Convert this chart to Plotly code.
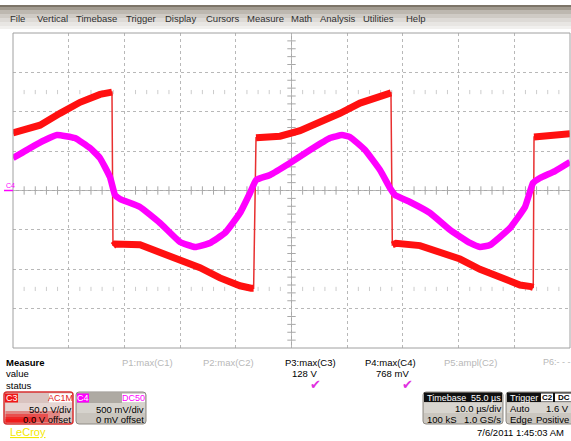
import plotly.graph_objects as go

W, H = 571, 441

# ---- waveform data (time in microseconds) ----
# C3: 50 V/div
c3_t = [0.0, 4.85, 8.44, 12.03, 15.62, 17.77, 17.95, 18.31, 22.80, 26.39, 29.98,
        33.57, 37.16, 40.75, 42.73, 43.20, 43.63, 47.94, 51.53, 55.12, 58.71,
        62.30, 65.89, 67.86, 68.10, 68.76, 73.07, 76.66, 80.25, 83.84, 87.43,
        91.02, 93.00, 93.40, 93.54, 96.41, 100.0]
c3_v = [73, 83, 98, 112, 122, 125, -70, -68, -69, -78, -89,
        -98, -111, -121, -124, -124, 67, 69, 76, 86, 98,
        111, 120, 124, -69, -67, -70, -78, -87, -100, -111,
        -120, -122, -123, 68, 69, 72]

# C4: 500 mV/div
c4_t = [0.0, 3.05, 5.75, 7.90, 11.13, 13.82, 15.62, 17.41, 18.31, 19.21, 22.80,
        26.39, 29.98, 32.68, 35.37, 38.06, 40.75, 42.55, 43.63, 46.14, 49.73,
        53.32, 56.91, 59.07, 60.50, 63.20, 65.89, 67.68, 68.58, 71.27, 74.87,
        78.46, 82.05, 83.84, 85.64, 89.23, 91.92, 93.36, 94.61, 97.31, 100.0]
c4_mv = [412, 539, 641, 704, 666, 539, 412, 171, -57, -108, -209,
         -412, -653, -717, -666, -539, -286, -32, 133, 197, 349,
         514, 666, 704, 679, 514, 260, 32, -57, -146, -286,
         -501, -666, -717, -692, -476, -209, 95, 159, 247, 362]

# measurement readouts
meas_headers = ["P1:max(C1)", "P2:max(C2)", "P3:max(C3)", "P4:max(C4)", "P5:ampl(C2)", "P6:- - -"]
meas_values = ["", "", "128 V", "768 mV", "", ""]
menu_items = ["File", "Vertical", "Timebase", "Trigger", "Display", "Cursors",
              "Measure", "Math", "Analysis", "Utilities", "Help"]

RED = "#ff1010"
MAG = "#ff00ff"
FONT = "Liberation Sans, Arial, sans-serif"

# plot area in pixels
X0, X1, Y0, Y1 = 13, 570, 33, 348


def px(x):
    return x / W


def py(y):
    return 1 - y / H


fig = go.Figure()

# grid decoration: ticks on center axes and the +-2.5 div marker rows
minor_t = [i * 2 for i in range(51) if i % 5 != 0]
fig.add_trace(go.Scatter(x=minor_t, y=[0] * len(minor_t), mode="markers",
                         marker=dict(symbol="line-ns", size=6, line=dict(color="#a8a8a8", width=1)),
                         hoverinfo="skip", showlegend=False))
minor_v = [i * 10 for i in range(-20, 21) if i % 5 != 0]
fig.add_trace(go.Scatter(x=[50] * len(minor_v), y=minor_v, mode="markers",
                         marker=dict(symbol="line-ew", size=6, line=dict(color="#a8a8a8", width=1)),
                         hoverinfo="skip", showlegend=False))
for lvl in (125, -125):
    fig.add_trace(go.Scatter(x=minor_t, y=[lvl] * len(minor_t), mode="markers",
                             marker=dict(symbol="line-ns", size=3, line=dict(color="#cccccc", width=1)),
                             hoverinfo="skip", showlegend=False))

# C4 trace
fig.add_trace(go.Scatter(x=c4_t, y=c4_mv, yaxis="y2", mode="lines",
                         line=dict(color=MAG, width=6.5, shape="spline", smoothing=0.35),
                         hoverinfo="skip", showlegend=False))

# C3 trace: thin edges for the whole series, wide band on the plateaus
fig.add_trace(go.Scatter(x=c3_t, y=c3_v, mode="lines",
                         line=dict(color="#e83030", width=1.5),
                         hoverinfo="skip", showlegend=False))
seg_t, seg_v = [c3_t[0]], [c3_v[0]]
for i in range(1, len(c3_t)):
    if abs(c3_v[i] - c3_v[i - 1]) > 100:
        seg_t.append(None)
        seg_v.append(None)
    seg_t.append(c3_t[i])
    seg_v.append(c3_v[i])
fig.add_trace(go.Scatter(x=seg_t, y=seg_v, mode="lines", connectgaps=False,
                         line=dict(color=RED, width=7),
                         hoverinfo="skip", showlegend=False))

shapes = []
ann = []

# center axes and border
shapes.append(dict(type="line", xref="x", yref="paper", x0=50, x1=50, y0=py(Y1), y1=py(Y0),
                   line=dict(color="#a8a8a8", width=1), layer="below"))
shapes.append(dict(type="line", xref="paper", yref="y", x0=px(X0), x1=px(X1), y0=0, y1=0,
                   line=dict(color="#a8a8a8", width=1), layer="below"))
shapes.append(dict(type="rect", xref="paper", yref="paper", x0=px(X0), x1=px(X1), y0=py(Y1), y1=py(Y0),
                   line=dict(color="#a0a0a0", width=1)))

# menu bar
bar = [(5, 7, "#7c7468"), (7, 10, "#a29b90"), (10, 14, "#bdb8b0"), (14, 18, "#cfcbc5"),
       (18, 22, "#dddad6"), (22, 26, "#e8e6e3"), (26, 29, "#f1f0ee")]
for y0, y1, c in bar:
    shapes.append(dict(type="rect", xref="paper", yref="paper", x0=0, x1=1, y0=py(y1), y1=py(y0),
                       fillcolor=c, line=dict(width=0), layer="below"))
menu_x = [8, 35, 74, 124, 163, 204, 245, 289, 318, 361, 404]
for name, x in zip(menu_items, menu_x):
    ann.append(dict(x=px(x), y=py(18), text=name, font=dict(size=9.5, color="#303030", family=FONT)))

# channel marker on the left edge
ann.append(dict(x=px(3.5), y=py(185), text="C4", font=dict(size=7, color=MAG, family=FONT)))
shapes.append(dict(type="line", xref="paper", yref="paper", x0=px(4), x1=px(13), y0=py(190.5), y1=py(190.5),
                   line=dict(color=MAG, width=1.5)))

# measurement table
ann.append(dict(x=px(4), y=py(362), text="<b>Measure</b>", font=dict(size=9.5, color="#000", family=FONT)))
ann.append(dict(x=px(4), y=py(373.5), text="value", font=dict(size=9.5, color="#000", family=FONT)))
ann.append(dict(x=px(4), y=py(385), text="status", font=dict(size=9.5, color="#000", family=FONT)))
hdr_x = [120, 201, 283, 363, 442, 541]
val_right = [0, 0, 319, 411, 0, 0]
for name, val, x, xr in zip(meas_headers, meas_values, hdr_x, val_right):
    active = val != ""
    ann.append(dict(x=px(x), y=py(362), text=name,
                    font=dict(size=9.5 if x < 540 else 9, color="#000" if active else "#b8b8b8",
                              family=FONT)))
    if active:
        ann.append(dict(x=px(xr), y=py(373.5), text=val, xanchor="right",
                        font=dict(size=9.5, color="#000", family=FONT)))
        ann.append(dict(x=px(xr - 4), y=py(384.5), text="\u2714", xanchor="center",
                        font=dict(size=13, color="#e030e0", family="DejaVu Sans")))


def rrect(x0, y0, x1, y1, r, fill, line, lw=1.0):
    rx, ry = r / W, r / H
    a0, a1, b0, b1 = px(x0), px(x1), py(y1), py(y0)
    path = (f"M {a0+rx},{b0} L {a1-rx},{b0} Q {a1},{b0} {a1},{b0+ry} "
            f"L {a1},{b1-ry} Q {a1},{b1} {a1-rx},{b1} L {a0+rx},{b1} "
            f"Q {a0},{b1} {a0},{b1-ry} L {a0},{b0+ry} Q {a0},{b0} {a0+rx},{b0} Z")
    return dict(type="path", xref="paper", yref="paper", path=path, fillcolor=fill,
                line=dict(color=line, width=lw))


def box(x0, y0, x1, y1, fill, opacity=1.0):
    return dict(type="rect", xref="paper", yref="paper", x0=px(x0), x1=px(x1), y0=py(y1), y1=py(y0),
                fillcolor=fill, line=dict(width=0), opacity=opacity)


# C3 channel box
shapes.append(rrect(4, 392, 73, 424, 3, "#d9c3bf", "#d83030", 1.5))
shapes.append(box(5.5, 403, 72, 411, "#e6d6d3"))
for x1, y0, op in [(60, 411, 0.35), (48, 414, 0.5), (36, 417, 0.7), (26, 419, 0.85)]:
    shapes.append(box(5.5, y0, x1, 422.5, "#f01818", op))
shapes.append(box(5, 393.5, 18, 402.5, "#f01818"))
shapes.append(box(49, 393.5, 72, 402.5, "#ffffff"))
ann.append(dict(x=px(11.5), y=py(398), text="C3", xanchor="center", font=dict(size=9, color="#fff", family=FONT)))
ann.append(dict(x=px(60.5), y=py(398), text="AC1M", xanchor="center", font=dict(size=9, color="#e02020", family=FONT)))
ann.append(dict(x=px(72.5), y=py(409), text="50.0 V/div", xanchor="right", font=dict(size=9.5, color="#000", family=FONT)))
ann.append(dict(x=px(72.5), y=py(419), text="0.0 V offset", xanchor="right", font=dict(size=9.5, color="#000", family=FONT)))

# C4 channel box
shapes.append(rrect(76, 392, 146, 424, 3, "#c9c5be", "#8e8a84", 1.0))
shapes.append(box(77, 393, 145, 403, "#aeaaa3"))
shapes.append(box(77, 403, 145, 413, "#d6d3cd"))
shapes.append(box(77, 393.5, 89, 402.5, MAG))
shapes.append(box(122, 393.5, 145, 402.5, "#ffffff"))
ann.append(dict(x=px(83), y=py(398), text="C4", xanchor="center", font=dict(size=9, color="#fff", family=FONT)))
ann.append(dict(x=px(133.5), y=py(398), text="DC50", xanchor="center", font=dict(size=9, color=MAG, family=FONT)))
ann.append(dict(x=px(145.5), y=py(409), text="500 mV/div", xanchor="right", font=dict(size=9.5, color="#000", family=FONT)))
ann.append(dict(x=px(145.5), y=py(419), text="0 mV offset", xanchor="right", font=dict(size=9.5, color="#000", family=FONT)))

# brand
ann.append(dict(x=px(8), y=py(432), text="<u>LeCroy</u>", font=dict(size=11, color="#f4e800", family=FONT)))

# Timebase box
shapes.append(rrect(423, 392, 503, 424, 3, "#cac6bf", "#8e8a84", 1.0))
shapes.append(box(424, 403, 502, 413, "#d8d5cf"))
shapes.append(box(424, 392.5, 502, 402, "#101010"))
ann.append(dict(x=px(425), y=py(397.5), text="Timebase", font=dict(size=9, color="#fff", family=FONT)))
ann.append(dict(x=px(502.5), y=py(397.5), text="55.0 \u00b5s", xanchor="right", font=dict(size=9, color="#fff", family=FONT)))
ann.append(dict(x=px(502.5), y=py(408.5), text="10.0 \u00b5s/div", xanchor="right", font=dict(size=9.5, color="#000", family=FONT)))
ann.append(dict(x=px(425), y=py(419), text="100 kS", font=dict(size=9.5, color="#000", family=FONT)))
ann.append(dict(x=px(502.5), y=py(419), text="1.0 GS/s", xanchor="right", font=dict(size=9.5, color="#000", family=FONT)))

# Trigger box
shapes.append(rrect(506, 392, 575, 424, 3, "#cac6bf", "#8e8a84", 1.0))
shapes.append(box(507, 403, 571, 413, "#d8d5cf"))
shapes.append(box(507, 392.5, 571, 402, "#101010"))
shapes.append(box(541, 393.5, 553, 401.5, "#ffffff"))
shapes.append(box(555, 393.5, 571, 401.5, "#ffffff"))
ann.append(dict(x=px(508), y=py(397.5), text="Trigger", font=dict(size=9, color="#fff", family=FONT)))
ann.append(dict(x=px(547), y=py(397.5), text="<b>C2</b>", xanchor="center", font=dict(size=8, color="#000", family=FONT)))
ann.append(dict(x=px(556), y=py(397.5), text="<b>DC</b>", font=dict(size=8, color="#000", family=FONT)))
ann.append(dict(x=px(508), y=py(408.5), text="Auto", font=dict(size=9.5, color="#000", family=FONT)))
ann.append(dict(x=px(571), y=py(408.5), text="1.6 V", xanchor="right", font=dict(size=9.5, color="#000", family=FONT)))
ann.append(dict(x=px(508), y=py(419), text="Edge", font=dict(size=9.5, color="#000", family=FONT)))
ann.append(dict(x=px(571), y=py(419), text="Positive", xanchor="right", font=dict(size=9.5, color="#000", family=FONT)))

# timestamp
ann.append(dict(x=px(566), y=py(432), text="7/6/2011 1:45:03 AM", xanchor="right",
                font=dict(size=9.5, color="#000", family=FONT)))

for a in ann:
    a.setdefault("xref", "paper")
    a.setdefault("yref", "paper")
    a.setdefault("xanchor", "left")
    a.setdefault("yanchor", "middle")
    a["showarrow"] = False

fig.update_layout(
    width=W, height=H,
    margin=dict(l=0, r=0, t=0, b=0),
    paper_bgcolor="#ffffff", plot_bgcolor="#ffffff",
    showlegend=False,
    xaxis=dict(domain=[px(X0), px(X1)], range=[0, 100], tick0=0, dtick=10,
               showgrid=True, gridcolor="#b8b8b8", griddash="dot", gridwidth=1,
               zeroline=False, showticklabels=False, ticks="", fixedrange=True),
    yaxis=dict(domain=[py(Y1), py(Y0)], range=[-200, 200], tick0=0, dtick=50,
               showgrid=True, gridcolor="#b8b8b8", griddash="dot", gridwidth=1,
               zeroline=False, showticklabels=False, ticks="", fixedrange=True),
    yaxis2=dict(domain=[py(Y1), py(Y0)], range=[-2000, 2000], overlaying="y",
                showgrid=False, zeroline=False, showticklabels=False, ticks="", fixedrange=True),
    shapes=shapes,
    annotations=ann,
)

fig.write_html("out.html")
